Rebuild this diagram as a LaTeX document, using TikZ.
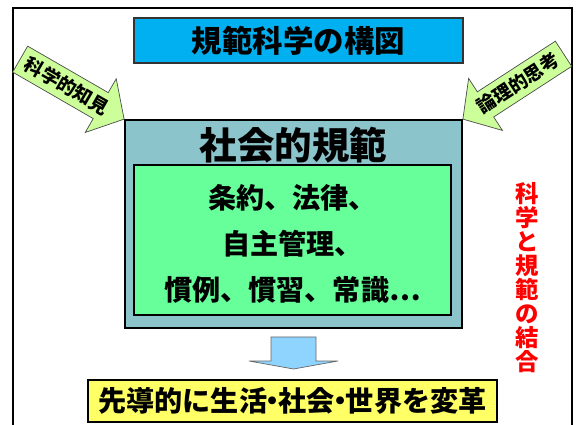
\documentclass[tikz,border=0pt]{standalone}
\usepackage{fontspec}
\setmainfont{Noto Sans CJK JP}
\definecolor{titleblue}{RGB}{0,176,240}
\definecolor{normteal}{RGB}{140,196,204}
\definecolor{rulegreen}{RGB}{102,255,153}
\definecolor{arrowgreen}{RGB}{204,255,153}
\definecolor{downblue}{RGB}{143,212,255}
\definecolor{actyellow}{RGB}{255,255,102}
\tikzset{
	box/.style={draw=black, line width=1.5pt, inner sep=0pt},
	blockarrow/.style={draw=black!70, line width=0.6pt, fill=arrowgreen},
	jp/.style={font=\fontsize{#1}{#1}\selectfont\bfseries}
}

\begin{document}
\begin{tikzpicture}[x=0.03cm, y=-0.03cm]
	\useasboundingbox (0,0) rectangle (579,425);
	\draw[line width=2.5pt] (13,440) |- (572,8) -- (572,440);
	
	\node[box, line width=1pt, draw=black!80, fill=titleblue, minimum width=9.87cm, minimum height=1.35cm, jp=26] (title) at (298.5,40.5) {規範科学の構図};
	
	\node[box, fill=normteal, minimum width=10.11cm, minimum height=6.24cm] (norm) at (293.5,224) {};
	\node[jp=32] (normlabel) at (293.5,145) {社会的規範};
	\node[box, fill=rulegreen, minimum width=9.51cm, minimum height=4.5cm] (rules) at (292.5,240) {};
	\node[align=center, font=\fontsize{24}{39}\selectfont\bfseries] (rulelist) at (292.5,244) {条約、法律、\\自主管理、\\慣例、慣習、常識…};
	
	\begin{scope}[shift={(norm.north west)}, rotate=-30]
		\draw[blockarrow] (0,0) -- (-27,31) -- (-27,15) -- (-120,15) -- (-120,-15) -- (-27,-15) -- (-27,-31) -- cycle;
		\node[transform shape, jp=16] (science) at (-66,0) {科学的知見};
	\end{scope}
	\begin{scope}[shift={(norm.north east)}, rotate=-147]
		\draw[blockarrow] (0,0) -- (-27,31) -- (-27,15) -- (-120,15) -- (-120,-15) -- (-27,-15) -- (-27,-31) -- cycle;
		\node[transform shape, rotate=180, jp=16] (logic) at (-66,0) {論理的思考};
	\end{scope}
	
	\draw[draw=black!60, line width=0.6pt, fill=downblue] (271,337) -- (316,337) -- (316,361) -- (338,361) -- (293.5,369) -- (249,361) -- (271,361) -- cycle;
	
	\node[box, fill=actyellow, minimum width=12.27cm, minimum height=1.26cm, jp=24] (action) at (292.5,401) {先導的に生活\kern-.3em・\kern-.3em社会\kern-.3em・\kern-.3em世界を変革};
	
	\node[text=red, align=center, font=\fontsize{20}{20.5}\selectfont\bfseries] (union) at (527,278) {科\\学\\と\\規\\範\\の\\結\\合};
\end{tikzpicture}
\end{document}
